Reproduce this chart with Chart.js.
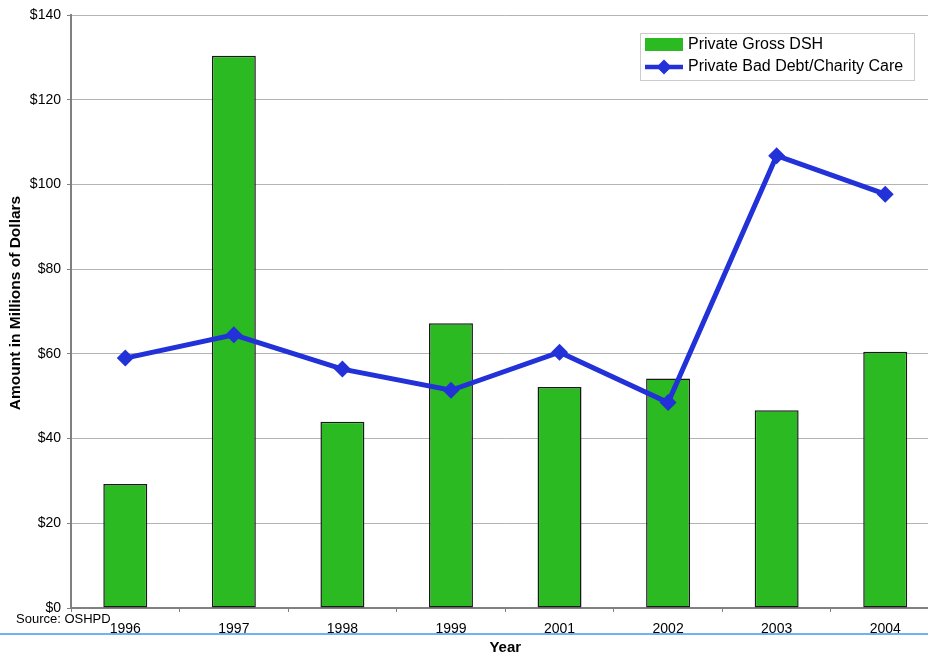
<!DOCTYPE html>
<html>
<head>
<meta charset="utf-8">
<script src="https://cdn.jsdelivr.net/npm/chart.js@4/dist/chart.umd.min.js"></script>
<style>
  html, body { margin: 0; padding: 0; background: #fff; overflow: hidden; width: 928px; height: 655px; }
  #wrap { position: absolute; left: 0; top: 0; width: 948px; height: 655px; }
</style>
</head>
<body>
<div id="wrap"><canvas id="c" width="948" height="655"></canvas></div>
<script>
const categories = ['1996', '1997', '1998', '1999', '2001', '2002', '2003', '2004'];
const grossDSH = [29.3, 130.4, 44.0, 67.2, 52.2, 54.2, 46.7, 60.5];
const badDebt = [59.0, 64.5, 56.4, 51.4, 60.4, 48.5, 106.8, 97.7];
const seriesNames = ['Private Gross DSH', 'Private Bad Debt/Charity Care'];
const yMin = 0, yMax = 140, yStep = 20;
const sourceNote = 'Source: OSHPD';
const yTitle = 'Amount in Millions of Dollars';
const xTitle = 'Year';

const FONT = "'Liberation Sans', Arial, sans-serif";
const GREEN = '#2bba22';
const BLUE = '#2232d8';

const extras = {
  id: 'extras',
  afterDraw(chart) {
    const ctx = chart.ctx;
    ctx.save();
    // light blue separator line
    ctx.fillStyle = '#6db5f2';
    ctx.fillRect(0, 633, chart.width, 2);
    // source note
    ctx.fillStyle = '#000';
    ctx.font = '13px ' + FONT;
    ctx.textAlign = 'left';
    ctx.textBaseline = 'middle';
    ctx.fillText(sourceNote, 16, 619.5);
    // y axis title
    ctx.save();
    ctx.translate(16, 303);
    ctx.rotate(-Math.PI / 2);
    ctx.textAlign = 'center';
    ctx.font = 'bold 15.5px ' + FONT;
    ctx.fillText(yTitle, 0, 0);
    ctx.restore();
    // legend box
    const bx = 640, by = 33, bw = 274, bh = 47;
    ctx.fillStyle = '#fff';
    ctx.fillRect(bx, by, bw, bh);
    ctx.strokeStyle = '#cccccc';
    ctx.lineWidth = 1;
    ctx.strokeRect(bx + 0.5, by + 0.5, bw, bh);
    const ds = chart.data.datasets;
    // entry 1: bar swatch
    ctx.fillStyle = ds[0].backgroundColor;
    ctx.fillRect(645, 38, 38, 13);
    ctx.fillStyle = '#000';
    ctx.font = '16px ' + FONT;
    ctx.textAlign = 'left';
    ctx.fillText(ds[0].label, 688, 44.5);
    // entry 2: line swatch with diamond
    ctx.strokeStyle = ds[1].borderColor;
    ctx.lineWidth = 4.5;
    ctx.beginPath();
    ctx.moveTo(645, 67); ctx.lineTo(683, 67);
    ctx.stroke();
    ctx.fillStyle = ds[1].borderColor;
    ctx.beginPath();
    ctx.moveTo(664, 59.5); ctx.lineTo(671.5, 67); ctx.lineTo(664, 74.5); ctx.lineTo(656.5, 67);
    ctx.closePath(); ctx.fill();
    ctx.fillStyle = '#000';
    ctx.fillText(ds[1].label, 688, 67);
    ctx.restore();
  }
};

new Chart(document.getElementById('c'), {
  data: {
    labels: categories,
    datasets: [
      {
        type: 'bar',
        label: seriesNames[0],
        data: grossDSH,
        backgroundColor: GREEN,
        borderColor: '#1a1a1a',
        borderWidth: 1.5,
        borderSkipped: false,
        barPercentage: 0.405,
        categoryPercentage: 1,
        order: 2
      },
      {
        type: 'line',
        label: seriesNames[1],
        data: badDebt,
        borderColor: BLUE,
        backgroundColor: BLUE,
        borderWidth: 5,
        pointStyle: 'rectRot',
        pointRadius: 8.5,
        pointBorderWidth: 0,
        tension: 0,
        order: 1
      }
    ]
  },
  options: {
    responsive: false,
    animation: false,
    events: [],
    layout: { padding: { top: 15, left: 0, right: 0, bottom: 0 } },
    plugins: {
      legend: { display: false },
      tooltip: { enabled: false }
    },
    scales: {
      x: {
        type: 'category',
        offset: true,
        grid: {
          offset: true,
          drawOnChartArea: false,
          drawTicks: true,
          tickLength: 4,
          color: '#808080'
        },
        border: { color: '#808080', width: 2 },
        ticks: { color: '#000', font: { family: FONT, size: 14 }, padding: 9, maxRotation: 0 },
        title: {
          display: true,
          text: xTitle,
          color: '#000',
          font: { family: FONT, size: 15, weight: 'bold', lineHeight: 1 },
          padding: { top: 0, bottom: 0 }
        },
        afterFit(scale) { scale.height = 47; }
      },
      y: {
        min: yMin,
        max: yMax,
        ticks: {
          stepSize: yStep,
          color: '#000',
          font: { family: FONT, size: 14 },
          padding: 6,
          callback: (v) => '$' + v
        },
        grid: { color: '#b4b4b4', lineWidth: 1, tickLength: 4, tickColor: '#808080' },
        border: { color: '#808080', width: 2 },
        title: { display: false },
        afterFit(scale) { scale.width = 71; }
      }
    }
  },
  plugins: [extras]
});
</script>
</body>
</html>
